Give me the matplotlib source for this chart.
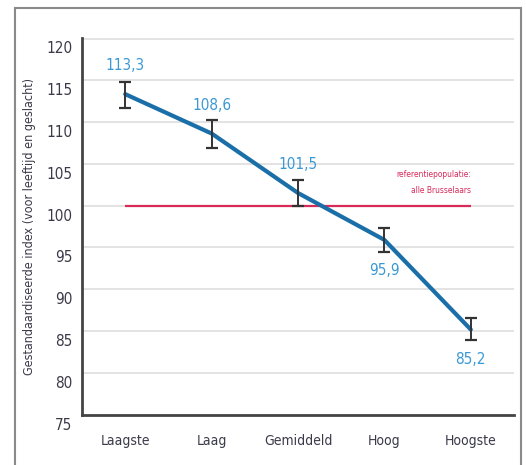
import numpy as np
import matplotlib
matplotlib.use("Agg")
import matplotlib.pyplot as plt
import matplotlib.transforms as mtrans
from matplotlib.patches import Rectangle

plt.rcParams["font.family"] = ["DejaVu Sans"]
plt.rcParams["font.stretch"] = "condensed"

# data
categories = ["Laagste", "Laag", "Gemiddeld", "Hoog", "Hoogste"]
index_values = [113.3, 108.6, 101.5, 95.9, 85.2]
err_low = [1.6, 1.7, 1.5, 1.5, 1.2]
err_high = [1.5, 1.6, 1.5, 1.4, 1.4]
value_labels = ["113,3", "108,6", "101,5", "95,9", "85,2"]
label_above = [True, True, True, False, False]
reference_value = 100
yticks = [75, 80, 85, 90, 95, 100, 105, 110, 115, 120]

LINE = "#1b6fa8"; LABEL = "#3a98d4"; REF = "#d92a5a"; GRID = "#e3e3e3"; TXT = "#3a3a4a"

fig = plt.figure(figsize=(5.26, 4.65), dpi=100)
fig.patches.append(Rectangle((15/526, -0.1), (521-15)/526, 1.1 - 8/465,
                             transform=fig.transFigure, fill=False,
                             edgecolor="#8a8a8a", lw=1.5))
ax = fig.add_axes([82/526, 50/465, (514-82)/526, (415-38)/465])
x = np.arange(len(categories))

for t in yticks[1:]:
    ax.axhline(t, color=GRID, lw=2.2 if t == 120 else 1.4, zorder=0)

ax.hlines(reference_value, 0, 4, color=REF, lw=1.6, zorder=1)
ax.text(4, 102.8, "referentiepopulatie:\nalle Brusselaars", color=REF,
        ha="right", va="center", fontsize=6, linespacing=2.0)

ax.plot(x, index_values, color=LINE, lw=3, zorder=2, solid_capstyle="round")
ax.errorbar(x, index_values, yerr=[err_low, err_high], fmt="none",
            ecolor="#333333", elinewidth=1.4, capsize=4, capthick=1.6, zorder=3)

for xi, v, lab, above in zip(x, index_values, value_labels, label_above):
    dy = 3.4 if above else -3.6
    ax.text(xi, v + dy, lab, color=LABEL, ha="center", va="center", fontsize=11)

ax.set_xlim(-0.5, 4.5)
ax.set_ylim(75, 120)
ax.set_yticks(yticks)
ax.set_xticks(x)
ax.set_xticklabels(categories, fontsize=10, color=TXT)
ax.tick_params(axis="y", labelsize=11, labelcolor=TXT, length=0, pad=7)
ax.tick_params(axis="x", length=0, pad=14)
off = mtrans.ScaledTranslation(0, -9/100, fig.dpi_scale_trans)
for lab in ax.get_yticklabels():
    lab.set_transform(lab.get_transform() + off)

for s in ["top", "right"]:
    ax.spines[s].set_visible(False)
for s in ["left", "bottom"]:
    ax.spines[s].set_color("#444444")
    ax.spines[s].set_linewidth(2)

ax.set_ylabel("Gestandaardiseerde index (voor leeftijd en geslacht)",
              fontsize=9, color=TXT)
ax.yaxis.set_label_coords(-46/432, 0.5)

fig.savefig("out.png", dpi=100)
